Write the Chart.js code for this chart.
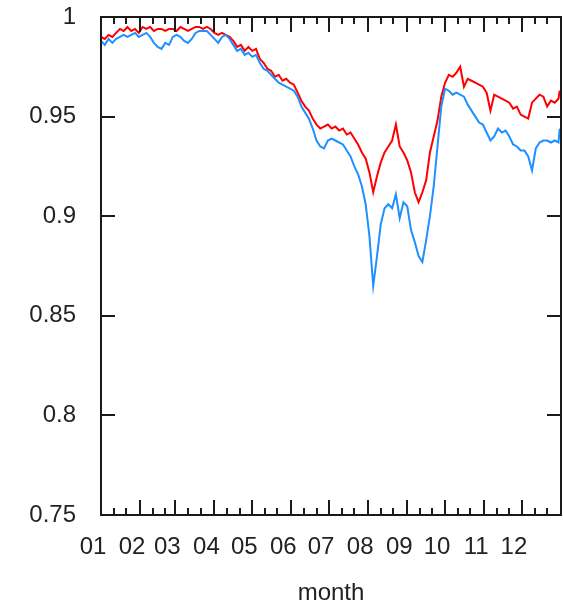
<!DOCTYPE html>
<html>
<head>
<meta charset="utf-8">
<script src="https://cdn.jsdelivr.net/npm/chart.js@4.4.1/dist/chart.umd.min.js"></script>
<style>
    body { margin: 0; background: #fff; }
    #wrap { width: 564px; height: 602px; }
</style>
</head>
<body>
<div id="wrap"><canvas id="lineChart" width="564" height="602"></canvas></div>
<script>
// day of year of each sample
var days = [0, 3, 6, 9, 12, 15, 18, 21, 24, 27, 30, 33, 36, 39, 42, 45, 48, 51, 54, 57,
    60, 63, 66, 69, 72, 75, 78, 81, 84, 87, 90, 93, 96, 99, 102, 105, 108, 111, 114, 117,
    120, 123, 126, 129, 132, 135, 138, 141, 144, 147, 150, 153, 156, 159, 162, 165, 168, 171, 174, 177,
    180, 183, 186, 189, 192, 195, 198, 201, 204, 207, 210, 213, 216, 219, 222, 225, 228, 231, 234, 237,
    240, 243, 246, 249, 252, 255, 258, 261, 264, 267, 270, 273, 276, 279, 282, 285, 288, 291, 294, 297,
    300, 303, 306, 309, 312, 315, 318, 321, 324, 327, 330, 333, 336, 339, 342, 345, 348, 351, 354, 357,
    360, 363, 364];

var redValues = [0.990, 0.989, 0.991, 0.990, 0.992, 0.994, 0.993, 0.995, 0.993, 0.994, 0.992, 0.995, 0.994, 0.995, 0.993, 0.994, 0.994, 0.993, 0.994, 0.994,
    0.993, 0.995, 0.994, 0.993, 0.994, 0.995, 0.995, 0.994, 0.995, 0.994, 0.992, 0.991, 0.992, 0.991, 0.990, 0.988, 0.985, 0.986, 0.983, 0.985,
    0.983, 0.984, 0.979, 0.977, 0.974, 0.973, 0.970, 0.971, 0.968, 0.969, 0.967, 0.966, 0.962, 0.958, 0.955, 0.953, 0.949, 0.946, 0.944, 0.945,
    0.946, 0.944, 0.945, 0.943, 0.944, 0.941, 0.942, 0.939, 0.936, 0.932, 0.929, 0.922, 0.912, 0.920, 0.927, 0.932, 0.935, 0.938, 0.946, 0.935,
    0.932, 0.928, 0.922, 0.912, 0.907, 0.912, 0.918, 0.932, 0.940, 0.948, 0.960, 0.967, 0.971, 0.970, 0.972, 0.975, 0.965, 0.969, 0.968, 0.967,
    0.966, 0.965, 0.962, 0.953, 0.961, 0.960, 0.959, 0.958, 0.957, 0.954, 0.955, 0.951, 0.950, 0.949, 0.957, 0.959, 0.961, 0.960, 0.955, 0.958,
    0.957, 0.959, 0.963];

var blueValues = [0.988, 0.986, 0.989, 0.987, 0.989, 0.990, 0.991, 0.990, 0.991, 0.992, 0.990, 0.991, 0.992, 0.990, 0.987, 0.985, 0.984, 0.987, 0.986, 0.990,
    0.991, 0.990, 0.988, 0.987, 0.989, 0.992, 0.993, 0.993, 0.993, 0.991, 0.989, 0.987, 0.990, 0.991, 0.989, 0.986, 0.983, 0.984, 0.981, 0.982,
    0.980, 0.981, 0.977, 0.974, 0.973, 0.971, 0.969, 0.967, 0.966, 0.965, 0.964, 0.963, 0.960, 0.955, 0.952, 0.949, 0.944, 0.938, 0.935, 0.934,
    0.938, 0.939, 0.938, 0.937, 0.936, 0.933, 0.930, 0.925, 0.921, 0.915, 0.906, 0.890, 0.865, 0.880, 0.896, 0.904, 0.906, 0.904, 0.911, 0.899,
    0.907, 0.905, 0.893, 0.887, 0.880, 0.877, 0.888, 0.900, 0.915, 0.935, 0.955, 0.964, 0.963, 0.961, 0.962, 0.961, 0.960, 0.956, 0.953, 0.950,
    0.947, 0.946, 0.942, 0.938, 0.940, 0.944, 0.942, 0.943, 0.940, 0.936, 0.935, 0.933, 0.933, 0.930, 0.923, 0.934, 0.937, 0.938, 0.938, 0.937,
    0.938, 0.937, 0.944];

var monthStarts = [0, 31, 59, 90, 120, 151, 181, 212, 243, 273, 304, 334];
var monthLabels = ["01", "02", "03", "04", "05", "06", "07", "08", "09", "10", "11", "12"];
var yTicks = [0.75, 0.8, 0.85, 0.9, 0.95, 1];
var yTickLabels = ["0.75", "0.8", "0.85", "0.9", "0.95", "1"];

// gnuplot style frame with inward ticks
var framePlugin = {
    id: "frame",
    afterDatasetsDraw: function (chart) {
        var ctx = chart.ctx;
        var a = chart.chartArea;
        var xs = chart.scales.x, ys = chart.scales.y;
        ctx.save();
        ctx.strokeStyle = "#1a1a1a";
        ctx.lineWidth = 2;
        ctx.beginPath();
        yTicks.forEach(function (v) {
            var py = Math.round(ys.getPixelForValue(v));
            ctx.moveTo(a.left, py); ctx.lineTo(a.left + 14, py);
            ctx.moveTo(a.right, py); ctx.lineTo(a.right - 14, py);
        });
        monthStarts.forEach(function (d) {
            [0, 10, 20].forEach(function (off) {
                var len = off === 0 ? 15 : 7;
                var px = Math.round(xs.getPixelForValue(d + off));
                ctx.moveTo(px, a.bottom); ctx.lineTo(px, a.bottom - len);
                ctx.moveTo(px, a.top); ctx.lineTo(px, a.top + len);
            });
        });
        ctx.stroke();
        ctx.strokeRect(a.left, a.top, a.right - a.left, a.bottom - a.top);
        ctx.restore();
    }
};

var ctx = document.getElementById("lineChart").getContext("2d");
var chart = new Chart(ctx, {
    type: "line",
    data: {
        datasets: [
            {
                label: "blue",
                data: days.map(function (d, i) { return { x: d, y: blueValues[i] }; }),
                borderColor: "#1e90ff",
                borderWidth: 2,
                pointRadius: 0,
                tension: 0,
                fill: false,
            },
            {
                label: "red",
                data: days.map(function (d, i) { return { x: d, y: redValues[i] }; }),
                borderColor: "#ff0000",
                borderWidth: 2,
                pointRadius: 0,
                tension: 0,
                fill: false,
            },
        ],
    },
    options: {
        responsive: false,
        animation: false,
        layout: { padding: { left: 0, right: 3, top: 17, bottom: 0 } },
        plugins: { legend: { display: false }, tooltip: { enabled: false } },
        scales: {
            x: {
                type: "linear",
                min: 0,
                max: 365,
                grid: { display: false, drawTicks: false },
                border: { display: false },
                afterFit: function (s) { s.height = 87; },
                afterBuildTicks: function (s) {
                    s.ticks = monthStarts.map(function (v) { return { value: v }; });
                },
                ticks: {
                    autoSkip: false,
                    maxRotation: 0,
                    padding: 18,
                    labelOffset: -8,
                    color: "#222",
                    font: { family: "Liberation Sans", size: 24 },
                    callback: function (v, i) { return monthLabels[i]; },
                },
                title: {
                    display: true,
                    text: "month",
                    color: "#222",
                    font: { family: "Liberation Sans", size: 24, lineHeight: 1 },
                    padding: { top: 0, bottom: -3 },
                },
            },
            y: {
                min: 0.75,
                max: 1,
                grid: { display: false, drawTicks: false },
                border: { display: false },
                afterFit: function (s) {
                    s.width = 101;
                    s.paddingTop = 0;
                    s.paddingBottom = 0;
                },
                afterBuildTicks: function (s) {
                    s.ticks = yTicks.map(function (v) { return { value: v }; });
                },
                ticks: {
                    padding: 25,
                    color: "#222",
                    font: { family: "Liberation Sans", size: 24 },
                    callback: function (v, i) { return yTickLabels[i]; },
                },
            },
        },
    },
    plugins: [framePlugin],
});
</script>
</body>
</html>
